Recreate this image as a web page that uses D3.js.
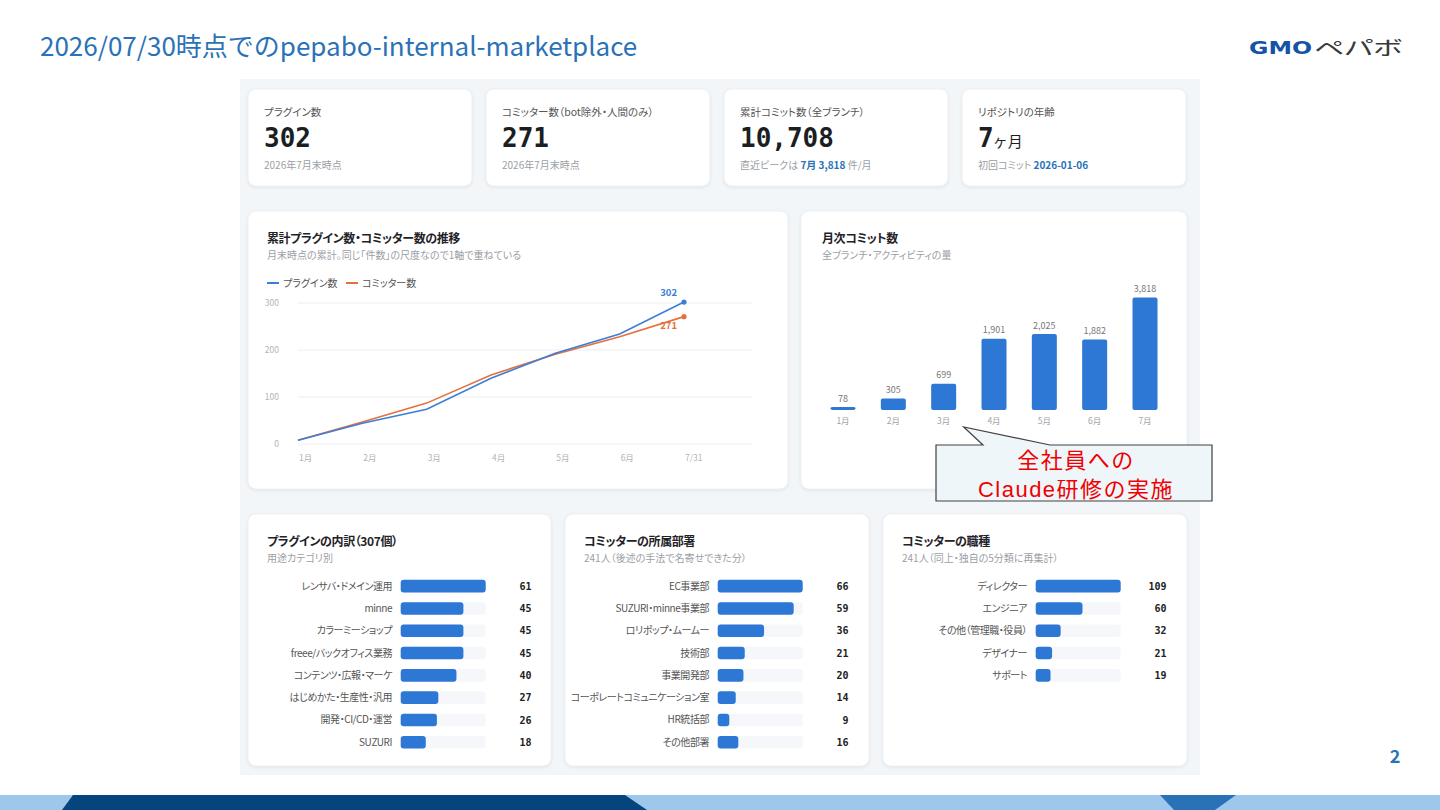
<!DOCTYPE html>
<html>
<head>
<meta charset="utf-8">
<script src="https://cdn.jsdelivr.net/npm/d3@7"></script>
<style>
  body { margin: 0; background: #fff; }
  svg text { font-family: "Noto Sans CJK JP", "Noto Sans", sans-serif; font-feature-settings: "palt"; }
  svg text.mono { font-family: "DejaVu Sans Mono", monospace; font-feature-settings: normal; }
</style>
</head>
<body>
<svg id="slide" width="1440" height="810"></svg>
<script>
// ---- data ----
const kpiLabels = ["プラグイン数", "コミッター数（bot除外・人間のみ）", "累計コミット数（全ブランチ）", "リポジトリの年齢"];
const kpiValues = ["302", "271", "10,708", "7"];
const kpiUnits = ["", "", "", "ヶ月"];
const kpiNotes = [
  [["2026年7月末時点", false]],
  [["2026年7月末時点", false]],
  [["直近ピークは ", false], ["7月 3,818", true], [" 件/月", false]],
  [["初回コミット ", false], ["2026-01-06", true]]
];

const lineMonths = ["1月", "2月", "3月", "4月", "5月", "6月", "7/31"];
const pluginTotals = [8, 44, 74, 140, 193, 234, 302];
const committerTotals = [8, 47, 87, 147, 191, 228, 271];
const lineTicks = [0, 100, 200, 300];

const commitMonths = ["1月", "2月", "3月", "4月", "5月", "6月", "7月"];
const monthlyCommits = [78, 305, 699, 1901, 2025, 1882, 3818];

const pluginCats = ["レンサバ・ドメイン運用", "minne", "カラーミーショップ", "freee/バックオフィス業務", "コンテンツ・広報・マーケ", "はじめかた・生産性・汎用", "開発・CI/CD・運営", "SUZURI"];
const pluginCounts = [61, 45, 45, 45, 40, 27, 26, 18];

const deptNames = ["EC事業部", "SUZURI・minne事業部", "ロリポップ・ムームー", "技術部", "事業開発部", "コーポレートコミュニケーション室", "HR統括部", "その他部署"];
const deptCounts = [66, 59, 36, 21, 20, 14, 9, 16];

const roleNames = ["ディレクター", "エンジニア", "その他（管理職・役員）", "デザイナー", "サポート"];
const roleCounts = [109, 60, 32, 21, 19];

// ---- styles ----
const BLUE = "#2d77d5";
const LINE_BLUE = "#3b7ed6";
const ORANGE = "#e4703f";
const ACCENT = "#2a72b8";

const svg = d3.select("#slide");

const defs = svg.append("defs");
defs.append("filter")
  .attr("id", "shadow")
  .attr("x", "-10%").attr("y", "-10%")
  .attr("width", "120%").attr("height", "130%")
  .append("feDropShadow")
  .attr("dx", 0).attr("dy", 1)
  .attr("stdDeviation", 1.8)
  .attr("flood-color", "#1b2a3a")
  .attr("flood-opacity", 0.09);

// ---- slide chrome ----
svg.append("text")
  .attr("x", 40).attr("y", 56)
  .attr("fill", ACCENT)
  .style("font-size", "26px")
  .style("font-feature-settings", "normal")
  .text("2026/07/30時点でのpepabo-internal-marketplace");

svg.append("text")
  .attr("x", 1249).attr("y", 54)
  .attr("fill", "#1553a5")
  .style("font-family", "DejaVu Sans")
  .style("font-weight", 700)
  .style("font-size", "18px")
  .attr("textLength", 63)
  .attr("lengthAdjust", "spacingAndGlyphs")
  .text("GMO");
svg.append("text")
  .attr("x", 1314).attr("y", 55)
  .attr("fill", "#3a3a3a")
  .style("font-size", "19px")
  .attr("textLength", 88)
  .attr("lengthAdjust", "spacingAndGlyphs")
  .text("ペパボ");

svg.append("text")
  .attr("x", 1395).attr("y", 763)
  .attr("text-anchor", "middle")
  .attr("fill", ACCENT)
  .style("font-size", "18px")
  .style("font-weight", 700)
  .text("2");

svg.append("rect").attr("x", 0).attr("y", 795).attr("width", 1440).attr("height", 15).attr("fill", "#9dc8ec");
svg.append("polygon").attr("points", "73,795 625,795 647,810 62,810").attr("fill", "#03457c");
svg.append("polygon").attr("points", "1160,795 1236,795 1215,810 1174,810").attr("fill", "#2a72b8");

// dashboard background
svg.append("rect").attr("x", 240).attr("y", 79).attr("width", 960).attr("height", 696).attr("fill", "#f3f6f9");

function card(x, y, w, h) {
  svg.append("rect")
    .attr("x", x).attr("y", y)
    .attr("width", w).attr("height", h)
    .attr("rx", 8)
    .attr("fill", "#fff")
    .attr("stroke", "#e9edf1")
    .attr("stroke-width", 0.8)
    .attr("filter", "url(#shadow)");
}

function cardTitle(x, y, title, sub) {
  svg.append("text")
    .attr("x", x).attr("y", y)
    .attr("fill", "#1f2328")
    .style("font-size", "12px")
    .style("font-weight", 700)
    .style("letter-spacing", "-0.4px")
    .text(title);
  svg.append("text")
    .attr("x", x).attr("y", y + 15.5)
    .attr("fill", "#9aa0a6")
    .style("font-size", "10px")
    .text(sub);
}

// ---- KPI cards ----
kpiLabels.forEach((label, i) => {
  const x0 = 248 + i * 238;
  card(x0, 89, 224, 97);

  svg.append("text")
    .attr("x", x0 + 16).attr("y", 115.5)
    .attr("fill", "#555")
    .style("font-size", "10.5px")
    .text(label);

  const big = svg.append("text")
    .attr("class", "mono")
    .attr("x", x0 + 16).attr("y", 146.5)
    .attr("fill", "#1b1f24")
    .style("font-size", "26px")
    .style("font-weight", 700)
    .text(kpiValues[i]);
  if (kpiUnits[i]) {
    big.append("tspan")
      .attr("dx", -1)
      .style("font-family", "'Noto Sans CJK JP', sans-serif")
      .style("font-size", "15px")
      .style("font-weight", 400)
      .text(kpiUnits[i]);
  }

  const note = svg.append("text")
    .attr("x", x0 + 16).attr("y", 168.5)
    .attr("fill", "#9aa0a6")
    .style("font-size", "10px");
  note.selectAll("tspan")
    .data(kpiNotes[i])
    .enter()
    .append("tspan")
    .attr("fill", d => d[1] ? ACCENT : "#9aa0a6")
    .style("font-weight", d => d[1] ? 700 : 400)
    .style("white-space", "pre")
    .text(d => d[0]);
});

// ---- cumulative line chart ----
card(248, 211, 540, 278);
cardTitle(267, 243, "累計プラグイン数・コミッター数の推移", "月末時点の累計。同じ「件数」の尺度なので1軸で重ねている");

const legend = [["プラグイン数", LINE_BLUE, 267], ["コミッター数", ORANGE, 346]];
legend.forEach(d => {
  svg.append("line")
    .attr("x1", d[2]).attr("x2", d[2] + 12)
    .attr("y1", 283).attr("y2", 283)
    .attr("stroke", d[1]).attr("stroke-width", 2);
  svg.append("text")
    .attr("x", d[2] + 16).attr("y", 286.5)
    .attr("fill", "#555")
    .style("font-size", "10px")
    .text(d[0]);
});

const xLine = d3.scalePoint().domain(lineMonths).range([298, 684]);
const yLine = d3.scaleLinear().domain([0, 300]).range([444, 303]);

svg.append("g")
  .selectAll("line")
  .data(lineTicks)
  .enter()
  .append("line")
  .attr("x1", 298).attr("x2", 752)
  .attr("y1", d => yLine(d)).attr("y2", d => yLine(d))
  .attr("stroke", "#eceef1");

svg.append("g")
  .selectAll("text")
  .data(lineTicks)
  .enter()
  .append("text")
  .attr("x", 279)
  .attr("y", d => yLine(d) + 3)
  .attr("text-anchor", "end")
  .attr("fill", "#b0b4ba")
  .style("font-size", "8.5px")
  .text(d => d);

svg.append("g")
  .selectAll("text")
  .data(lineMonths)
  .enter()
  .append("text")
  .attr("x", d => xLine(d) + 1)
  .attr("y", 461)
  .attr("fill", "#b0b4ba")
  .style("font-size", "8.5px")
  .text(d => d);

const lineGen = d3.line()
  .x((d, i) => xLine(lineMonths[i]))
  .y(d => yLine(d));

[[committerTotals, ORANGE], [pluginTotals, LINE_BLUE]].forEach(([series, color]) => {
  svg.append("path")
    .datum(series)
    .attr("d", lineGen)
    .attr("fill", "none")
    .attr("stroke", color)
    .attr("stroke-width", 1.6);
});

const lastMonth = lineMonths[lineMonths.length - 1];
const ends = [
  {v: pluginTotals[pluginTotals.length - 1], color: LINE_BLUE, dy: -6.5},
  {v: committerTotals[committerTotals.length - 1], color: ORANGE, dy: 12.5}
];
ends.forEach(d => {
  svg.append("circle")
    .attr("cx", xLine(lastMonth)).attr("cy", yLine(d.v))
    .attr("r", 2.6)
    .attr("fill", d.color);
  svg.append("text")
    .attr("x", xLine(lastMonth) - 7)
    .attr("y", yLine(d.v) + d.dy)
    .attr("text-anchor", "end")
    .attr("fill", d.color)
    .style("font-size", "9.5px")
    .style("font-weight", 700)
    .text(d.v);
});

// ---- monthly commits bar chart ----
card(801, 211, 386, 278);
cardTitle(822, 243, "月次コミット数", "全ブランチ・アクティビティの量");

const xBar = d3.scalePoint().domain(commitMonths).range([843, 1145]);
const yBar = d3.scaleLinear().domain([0, 3000]).range([410, 297.5]).clamp(true);
const barW = 25;

svg.append("g")
  .selectAll("rect")
  .data(monthlyCommits)
  .enter()
  .append("rect")
  .attr("x", (d, i) => xBar(commitMonths[i]) - barW / 2)
  .attr("y", d => yBar(d))
  .attr("width", barW)
  .attr("height", d => yBar(0) - yBar(d))
  .attr("rx", 2)
  .attr("fill", BLUE);

svg.append("g")
  .selectAll("text")
  .data(monthlyCommits)
  .enter()
  .append("text")
  .attr("x", (d, i) => xBar(commitMonths[i]))
  .attr("y", d => yBar(d) - 5.5)
  .attr("text-anchor", "middle")
  .attr("fill", "#777")
  .style("font-size", "9px")
  .text(d => d3.format(",")(d));

svg.append("g")
  .selectAll("text")
  .data(commitMonths)
  .enter()
  .append("text")
  .attr("x", d => xBar(d))
  .attr("y", 424)
  .attr("text-anchor", "middle")
  .attr("fill", "#a0a4aa")
  .style("font-size", "8.5px")
  .text(d => d);

// callout
const tipX = xBar("3月") + 20;
svg.append("path")
  .attr("d", `M936,445 L983,445 L${tipX},427 L1050,445 L1212,445 L1212,501 L936,501 Z`)
  .attr("fill", "#eef6fa")
  .attr("stroke", "#404040")
  .attr("stroke-width", 1.2);
const callout = ["全社員への", "Claude研修の実施"];
svg.append("g")
  .selectAll("text")
  .data(callout)
  .enter()
  .append("text")
  .attr("x", 1076)
  .attr("y", (d, i) => 468 + i * 28.5)
  .attr("text-anchor", "middle")
  .attr("fill", "#f00000")
  .style("font-family", "'Liberation Sans', 'Noto Sans CJK JP', sans-serif")
  .style("font-size", "22px")
  .style("letter-spacing", "1.5px")
  .style("font-feature-settings", "normal")
  .text(d => d);

// ---- breakdown cards ----
function breakdown(x0, w, title, sub, names, values) {
  card(x0, 514, w, 252);
  cardTitle(x0 + 19, 546, title, sub);

  const yRow = d3.scaleBand().domain(names).range([575, 575 + 22.3 * names.length]);
  const xVal = d3.scaleLinear().domain([0, d3.max(values)]).range([0, 85]);
  const barH = 12.6;
  const bx = x0 + 152.7;

  const rows = svg.append("g")
    .selectAll("g")
    .data(names)
    .enter()
    .append("g")
    .attr("transform", d => `translate(0, ${yRow(d) + yRow.bandwidth() / 2})`);

  rows.append("rect")
    .attr("x", bx).attr("y", -barH / 2)
    .attr("width", xVal.range()[1]).attr("height", barH)
    .attr("rx", 3)
    .attr("fill", "#f5f7fa");

  rows.append("rect")
    .attr("x", bx).attr("y", -barH / 2)
    .attr("width", (d, i) => xVal(values[i])).attr("height", barH)
    .attr("rx", 3)
    .attr("fill", BLUE);

  rows.append("text")
    .attr("x", x0 + 144).attr("y", 3.5)
    .attr("text-anchor", "end")
    .attr("fill", "#555")
    .style("font-size", "10px")
    .style("letter-spacing", "-0.45px")
    .text(d => d);

  rows.append("text")
    .attr("class", "mono")
    .attr("x", x0 + 283.5).attr("y", 3.6)
    .attr("text-anchor", "end")
    .attr("fill", "#222")
    .style("font-size", "10px")
    .style("font-weight", 700)
    .text((d, i) => values[i]);
}

breakdown(248, 303, "プラグインの内訳（307個）", "用途カテゴリ別", pluginCats, pluginCounts);
breakdown(565, 304, "コミッターの所属部署", "241人（後述の手法で名寄せできた分）", deptNames, deptCounts);
breakdown(883, 304, "コミッターの職種", "241人（同上・独自の5分類に再集計）", roleNames, roleCounts);
</script>
</body>
</html>
